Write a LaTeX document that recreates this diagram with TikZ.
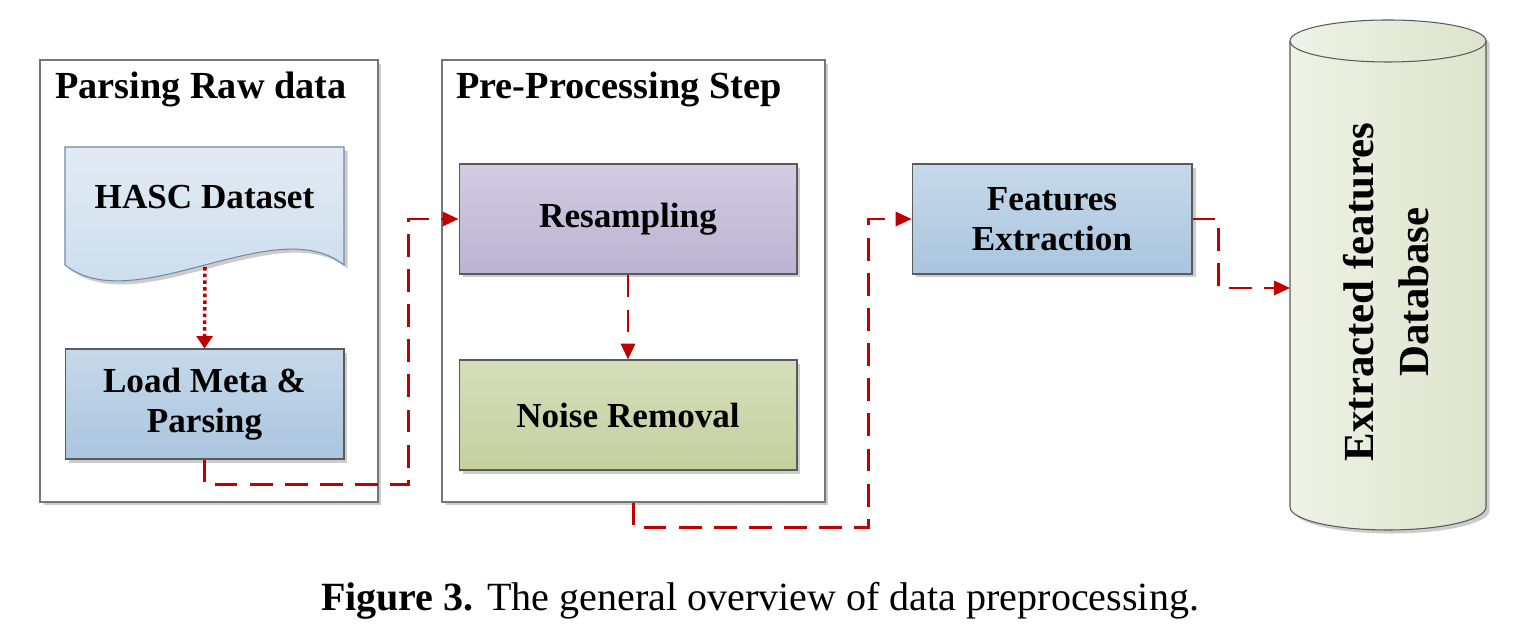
\documentclass[tikz,border=0pt]{standalone}
\usepackage{fontspec}
\setmainfont{Liberation Serif}
\usetikzlibrary{arrows.meta,shadows}
\definecolor{linkred}{HTML}{C00000}
\definecolor{panelgray}{HTML}{767676}
\definecolor{boxgray}{HTML}{5A5A5A}
\begin{document}
\begin{tikzpicture}[x = 0.02cm, y = -0.02cm,
  every node/.style = {font = \bfseries\fontsize{20}{23}\selectfont, align = center},
  shade/.style = {drop shadow = {shadow xshift = 2pt, shadow yshift = -2pt, opacity = 0.2, fill = black}},
  panel/.style = {draw = panelgray, line width = 0.8pt, fill = white, shade, minimum height = 8.84cm},
  paneltitle/.style = {anchor = west, font = \bfseries\fontsize{21.8}{25}\selectfont},
  stepbox/.style = {draw = boxgray, line width = 0.6pt, shade, minimum height = 2.2cm},
  bluebox/.style = {stepbox, top color = {rgb,255:red,198;green,217;blue,234}, bottom color = {rgb,255:red,169;green,197;blue,222}},
  link/.style = {draw = linkred, line width = 1.5pt, dash pattern = on 13pt off 7pt, -{Triangle[length = 9pt, width = 8pt]}},
  dotlink/.style = {draw = linkred, line width = 2pt, dash pattern = on 2pt off 1.8pt, -{Triangle[length = 7pt, width = 9pt]}}]

  \useasboundingbox (0, 0) rectangle (1527, 644);

  \node[panel, minimum width = 6.76cm] (raw) at (209, 281) {};
  \node[panel, minimum width = 7.66cm] (pre) at (633.5, 281) {};
  \node[paneltitle] (rawtitle) at (49, 89) {Parsing Raw data};
  \node[paneltitle] (pretitle) at (450, 89) {Pre-Processing Step};

  \path[draw = {rgb,255:red,110;green,139;blue,170}, line width = 0.6pt, shade, top color = {rgb,255:red,226;green,235;blue,244}, bottom color = {rgb,255:red,199;green,218;blue,235}]
    (65, 147) -- (344, 147) -- (344, 265) .. controls (275, 210) and (135, 320) .. (65, 265) -- cycle;
  \node (hasc) at (204.5, 197) {HASC Dataset};
  \coordinate (hascwave) at (205, 267);

  \node[bluebox, minimum width = 5.58cm] (load) at (204.5, 404) {Load Meta \&\\Parsing};

  \node[stepbox, minimum width = 6.76cm, top color = {rgb,255:red,211;green,204;blue,226}, bottom color = {rgb,255:red,188;green,178;blue,210}] (res) at (628, 219) {Resampling};
  \node[stepbox, minimum width = 6.76cm, top color = {rgb,255:red,213;green,222;blue,186}, bottom color = {rgb,255:red,197;green,208;blue,159}] (noise) at (628, 415) {Noise Removal};

  \node[bluebox, minimum width = 5.6cm] (fe) at (1052, 219) {Features\\Extraction};

  \path[draw = boxgray, line width = 0.6pt, shade, left color = {rgb,255:red,239;green,242;blue,230}, right color = {rgb,255:red,221;green,228;blue,204}]
    (1290, 41) arc[start angle = 180, end angle = 360, x radius = 98, y radius = 21] -- (1486, 507) arc[start angle = 0, end angle = 180, x radius = 98, y radius = 23] -- cycle;
  \draw[boxgray, line width = 0.6pt] (1290, 41) arc[start angle = 180, end angle = 0, x radius = 98, y radius = 21];
  \node[rotate = 90, font = \bfseries\fontsize{24.4}{31}\selectfont] (db) at (1386, 292) {Extracted features\\Database};
  \coordinate (dbin) at (1290, 288);

  \node[font = \fontsize{22.8}{26}\selectfont] (caption) at (760, 601) {\textbf{Figure 3.} The general overview of data preprocessing.};

  \draw[dotlink] (hascwave) -- (load.north);
  \draw[link] (res.south) -- (noise.north);
  \draw[link] (load.south) -- ++(0, 25) -| ([xshift = -1cm]res.west) -- (res.west);
  \draw[link] (pre.south) -- ++(0, 25) -| ([xshift = -0.86cm]fe.west) -- (fe.west);
  \draw[link] (fe.east) -- ++(26, 0) |- (dbin);

\end{tikzpicture}
\end{document}
